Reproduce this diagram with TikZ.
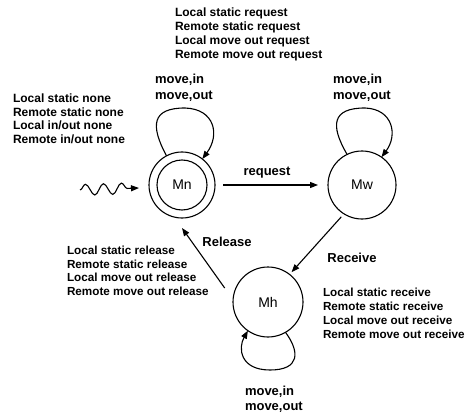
\documentclass[tikz,border=0pt]{standalone}
\usepackage{fontspec}
\setmainfont{Liberation Sans}
\usetikzlibrary{arrows.meta,decorations.pathmorphing,calc}
\begin{document}
\begin{tikzpicture}[x=1pt,y=-1pt,
 every node/.style={inner sep=0pt,outer sep=0pt},
 state/.style={draw,circle,line width=1.1pt,minimum size=68pt,font=\fontsize{14}{16}\selectfont},
 lbl/.style={align=left,anchor=north west,font=\bfseries\fontsize{12}{14}\selectfont},
 mv/.style={align=left,anchor=north west,font=\bfseries\fontsize{13}{16.5}\selectfont},
 elbl/.style={font=\bfseries\fontsize{13}{15}\selectfont},
 edge/.style={line width=1.1pt,-{Triangle[length=8pt,width=6pt]}},
]
\useasboundingbox (0,0) rectangle (471,417);
% states
\node[state,minimum size=66pt] (Mno) at (182,185) {};
\node[state,minimum size=50pt] (Mn) at (182,185) {Mn};
\node[state] (Mw) at (362,185) {Mw};
\node[state,minimum size=70pt] (Mh) at (268,302) {Mh};
% self loops
\draw[edge] (Mno.118) .. controls (150,125) and (152,108) .. (185,108)
  .. controls (215,109) and (220,135) .. (Mno.52);
\draw[edge] (Mw.116) .. controls (330,125) and (332,108) .. (365,108)
  .. controls (393,109) and (398,135) .. (Mw.55);
\draw[edge] (Mh.-60) .. controls (300,352) and (300,370) .. (270,370)
  .. controls (240,370) and (238,348) .. (Mh.-125);
% initial wavy arrow
\coordinate (w0) at (80,190);
\draw[edge,decorate,decoration={snake,amplitude=5.5pt,segment length=18pt,post length=10pt}]
  (w0) -- ([xshift=-10pt,yshift=-3pt]Mno.west);
% transitions
\draw[edge,shorten <=8pt,shorten >=10pt] (Mno.east) -- (Mw.west);
\draw[edge,shorten <=4pt,shorten >=3pt] (Mw.238) -- (Mh.52);
\draw[edge] ([xshift=-13pt,yshift=-3.5pt]Mh.150) -- ([yshift=-10pt]Mno.south);
% edge labels
\node[elbl] (lreq) at (267,173) {request};
\node[elbl] (lrel) at (227,242) {Release};
\node[elbl] (lrec) at (352,258) {Receive};
% loop labels
\node[mv] (mvn) at (155,74) {move,in\\move,out};
\node[mv] (mvw) at (333,74) {move,in\\move,out};
\node[mv,font=\bfseries\fontsize{13}{15}\selectfont] (mvh) at (245,386) {move,in\\move,out};
% condition blocks
\node[lbl] (treq) at (175,8) {Local static request\\Remote static request\\Local move out request\\Remote move out request};
\node[lbl,font=\bfseries\fontsize{12}{13.5}\selectfont] (tnone) at (13,94) {Local static none\\Remote static none\\Local in/out none\\Remote in/out none};
\node[lbl,font=\bfseries\fontsize{11.7}{13.7}\selectfont] (trel) at (67,246) {Local static release\\Remote static release\\Local move out release\\Remote move out release};
\node[lbl,font=\bfseries\fontsize{11.7}{14}\selectfont] (trec) at (323,288) {Local static receive\\Remote static receive\\Local move out receive\\Remote move out receive};
\end{tikzpicture}
\end{document}
